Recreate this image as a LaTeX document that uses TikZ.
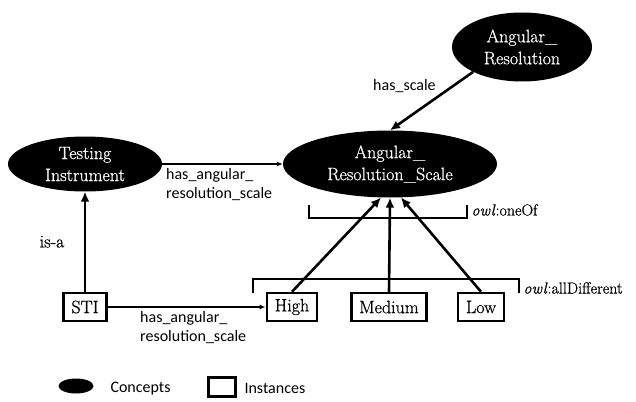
\documentclass[tikz,border=0pt]{standalone}
\usepackage{fontspec}
\newfontfamily\labelfont{Carlito}
\newfontfamily\nodefont{Latin Modern Roman}[FakeBold=0.7]
\usetikzlibrary{positioning,shapes.geometric,arrows.meta}

\begin{document}
\begin{tikzpicture}[x=1pt, y=-1pt, on grid,
conceptnode/.style={ellipse, fill=black, text=white, inner sep=0pt, align=center, font=\nodefont\fontsize{18}{22}\selectfont},
instancenode/.style={rectangle, draw=black, line width=2.5pt, minimum height=28pt, inner xsep=8pt, font=\nodefont\fontsize{18}{22}\selectfont},
edgelabel/.style={font=\labelfont\fontsize{16}{19}\selectfont, align=left},
owllabel/.style={font=\nodefont\fontsize{16}{19}\selectfont, anchor=west},
>={Latex[length=10pt,width=9pt]},
strongedge/.style={->, line width=2.6pt},
lightedge/.style={-{Latex[length=6pt,width=5pt]}, line width=1.3pt},
groupbrace/.style={line width=2pt},
]
\useasboundingbox (0,0) rectangle (636,401);

% Concepts
\node[conceptnode, minimum width=154pt, minimum height=55pt] (instrument) at (85,164) {Testing\\Instrument};
\node[conceptnode, minimum width=214pt, minimum height=67pt, right=305pt of instrument] (scale) {Angular\_\\Resolution\_Scale};
\node[conceptnode, minimum width=140pt, minimum height=69pt, above right=117pt and 132pt of scale] (resolution) {Angular\_\\Resolution};

% Instances
\node[instancenode, below=143pt of instrument] (sti) {STI};
\node[instancenode, right=207pt of sti] (high) {High};
\node[instancenode, right=97pt of high] (medium) {Medium};
\node[instancenode, right=92pt of medium] (low) {Low};

% Relationships
\draw[lightedge] (instrument) -- node[edgelabel, anchor=north west, pos=0] {has\_angular\_\\resolution\_scale} (scale);
\draw[lightedge] (sti) -- node[edgelabel, anchor=north west, pos=0.18] {has\_angular\_\\resolution\_scale} (high);
\draw[strongedge] (sti) -- node[left=16pt, font=\nodefont\fontsize{18}{22}\selectfont] {is-a} (instrument);
\draw[strongedge] (resolution.207) -- node[edgelabel, pos=0.25, left=12pt] {has\_scale} (scale.north);

% Members of the scale
\draw[strongedge] (high.north) -- (scale.255);
\draw[strongedge] (medium.north) -- (scale.south);
\draw[strongedge] (low.north) -- (scale.288);

% Groupings
\draw[groupbrace] (309,205) |- (467,218) -- (467,205);
\node[owllabel] (oneof) at (468,210) {\textit{owl}:oneOf};
\draw[groupbrace] (253,293) |- (519,279) -- (519,293);
\node[owllabel] (alldiff) at (520,288) {\textit{owl}:allDifferent};

% Legend
\node[ellipse, fill=black, minimum width=35pt, minimum height=15pt, inner sep=0pt] (legconcept) at (76,386) {};
\node[edgelabel, anchor=west] (legconcepttext) at (107,389) {Concepts};
\node[draw, line width=2.5pt, minimum width=27pt, minimum height=19pt, inner sep=0pt] (leginstance) at (222,387) {};
\node[edgelabel, anchor=west] (leginstancetext) at (241,388) {Instances};

\end{tikzpicture}
\end{document}
